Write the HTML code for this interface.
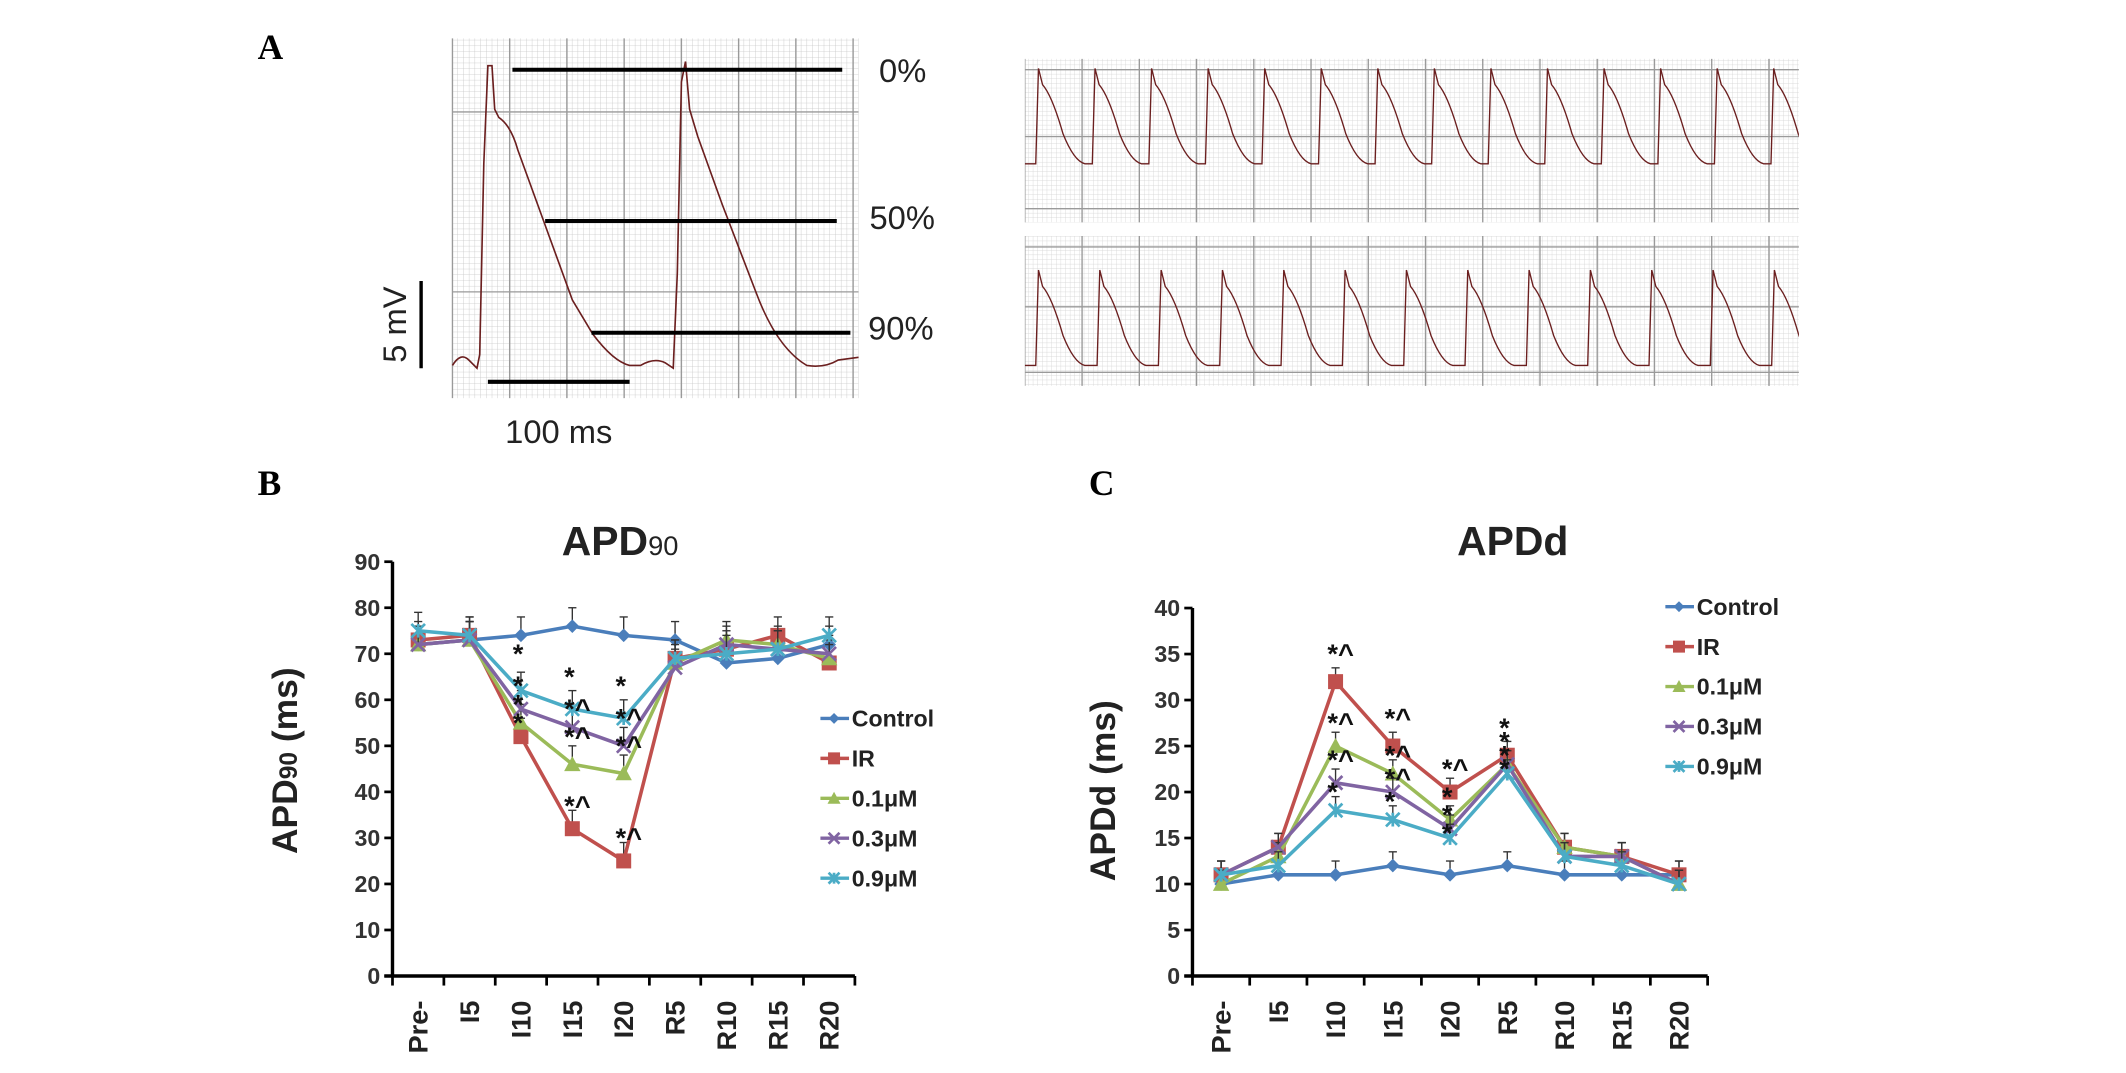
<!DOCTYPE html>
<html><head><meta charset="utf-8"><style>
html,body{margin:0;padding:0;background:#fff;}
svg{display:block;}
text{font-family:"Liberation Sans",sans-serif;}
text.serif{font-family:"Liberation Serif",serif;}
</style></head><body>
<svg id="fig" width="2126" height="1073" viewBox="0 0 1560 787" xmlns="http://www.w3.org/2000/svg">
<defs>
<pattern id="fine" width="4.2" height="4.2" patternUnits="userSpaceOnUse"><path d="M4.2 0V4.2M0 4.2H4.2" stroke="#c8c8c8" stroke-width="0.6" fill="none"/></pattern>
<pattern id="fineR" width="3.4" height="3.4" patternUnits="userSpaceOnUse"><path d="M3.4 0V3.4M0 3.4H3.4" stroke="#cfcfcf" stroke-width="0.5" fill="none"/></pattern>
<clipPath id="clipR"><rect x="752" y="40" width="568" height="250"/></clipPath>
</defs>
<g id="panelA"></g>
<g id="chartB"></g>
<g id="chartC"></g>
</svg>
<script>
const categories=["Pre-","I5","I10","I15","I20","R5","R10","R15","R20"];
const seriesNames=["Control","IR","0.1\u03bcM","0.3\u03bcM","0.9\u03bcM"];
const seriesColors=["#4a7ebb","#c0504d","#9bbb59","#8064a2","#4bacc6"];
const b_control=[72,73,74,76,74,73,68,69,72];
const b_ir=[73,74,52,32,25,69,71,74,68];
const b_01=[72,73,55,46,44,68,73,72,69];
const b_03=[72,73,58,54,50,67,72,71,70];
const b_09=[75,74,62,58,56,69,70,71,74];
const b_ticks=[0,10,20,30,40,50,60,70,80,90];
const c_control=[10,11,11,12,11,12,11,11,11];
const c_ir=[11,14,32,25,20,24,14,13,11];
const c_01=[10,13,25,22,17,23,14,13,10];
const c_03=[11,14,21,20,16,23,13,13,10];
const c_09=[11,12,18,17,15,22,13,12,10];
const c_ticks=[0,5,10,15,20,25,30,35,40];

const NS="http://www.w3.org/2000/svg";
function mk(tag,attrs,parent,txt){const e=document.createElementNS(NS,tag);for(const k in attrs)e.setAttribute(k,attrs[k]);if(txt!==undefined)e.textContent=txt;parent.appendChild(e);return e;}

// ---------- Panel A ----------
const A=document.getElementById('panelA');
let t;
t=mk('text',{x:189,y:43,'class':'serif','font-weight':'bold','font-size':26},A,'A');


function gridBox(x,y,w,h,pat,major,name,parent){
  const g=mk('g',{},parent||A);
  
  
  mk('rect',{x:x,y:y,width:w,height:h,fill:'url(#'+pat+')'},g);
  for(let gx=x;gx<=x+w;gx+=major)mk('line',{x1:gx,y1:y,x2:gx,y2:y+h,stroke:'#9a9a9a','stroke-width':1},g);
  return g;
}
const gL=gridBox(332,28,298,264,'fine',42,'action-potential-grid');
[82,214].forEach(yy=>mk('line',{x1:332,y1:yy,x2:630,y2:yy,stroke:'#9a9a9a','stroke-width':1},gL));
let tr=mk('path',{d:'M332 268 Q338 258 344 264 L350 270 L352 260 L355 120 L358 48 L361 48 L363 80 L366 86 Q375 92 380 110 L400 165 L420 220 L435 245 Q450 265 462 268 L470 268 Q480 262 488 266 L494 270 L497 200 L500 60 L503 45 L506 80 L512 100 L530 150 L555 215 Q570 255 592 268 Q605 270 615 264 L630 262',fill:'none',stroke:'#6b1f1f','stroke-width':1.2},A);


[[376,51,618,'0%',645,60],[400,162,614,'50%',638,168],[434,244,624,'90%',637,249]].forEach((r,i)=>{
  const l=mk('line',{x1:r[0],y1:r[1],x2:r[2],y2:r[1],stroke:'#000','stroke-width':3},A);
  
  
  const tx=mk('text',{x:r[4],y:r[5],'font-size':24,fill:'#222'},A,r[3]);
  
  
});
let sb=mk('line',{x1:358,y1:280,x2:462,y2:280,stroke:'#000','stroke-width':3},A);


t=mk('text',{x:410,y:325,'font-size':24,'text-anchor':'middle',fill:'#222'},A,'100 ms');


sb=mk('line',{x1:309,y1:206,x2:309,y2:270,stroke:'#000','stroke-width':2.5},A);


t=mk('text',{x:0,y:0,'font-size':24,'text-anchor':'middle',fill:'#222',transform:'translate(298,238) rotate(-90)'},A,'5 mV');


const clipG=mk('g',{'clip-path':'url(#clipR)'},A);
function strip(y,h,top,base,name,startX,period){
  const g=gridBox(752,y,568,h,'fineR',42,name,clipG);
  [y+8,y+h/2-3,y+h-10].forEach(yy=>mk('line',{x1:752,y1:yy,x2:1320,y2:yy,stroke:'#9a9a9a','stroke-width':1},g));
  let d='M752 '+base;
  for(let x=startX;x<1320;x+=period){
    d+=' L'+(x-2)+' '+base+' L'+x+' '+top+' L'+(x+3)+' '+(top+12)+' Q'+(x+10)+' '+(top+20)+' '+(x+18)+' '+(base-22)+' Q'+(x+26)+' '+(base-2)+' '+(x+34)+' '+base;
  }
  const p=mk('path',{d:d,fill:'none',stroke:'#6b1f1f','stroke-width':1},g);
  
  
}
strip(43,120,50,120,'recording-strip-top',762,41.5);
strip(173,110,198,268,'recording-strip-bottom',762,45);

// ---------- Line charts ----------
function chart(gid,opts){
  const G=document.getElementById(gid);
  const X=i=>opts.x0+opts.step*(i+0.5);
  const Y=v=>opts.y0-(v/opts.ymax)*(opts.y0-opts.yTop);
  let e;
  e=mk('text',{x:opts.labX,y:363,'class':'serif','font-weight':'bold','font-size':26},G,opts.letter);
  
  
  e=mk('text',{x:opts.titleX,y:407,'font-weight':'bold','font-size':30,'text-anchor':'middle',fill:'#222'},G);
  
  
  e.innerHTML=opts.title;
  e=mk('text',{x:0,y:0,'font-weight':'bold','font-size':26,'text-anchor':'middle',fill:'#222',transform:'translate('+opts.ylabX+','+(opts.ylabY)+') rotate(-90)'},G);
  
  
  e.innerHTML=opts.ylab;
  const ax=mk('g',{},G);
  
  
  mk('line',{x1:opts.x0,y1:Y(opts.ymax),x2:opts.x0,y2:opts.y0,stroke:'#000','stroke-width':2.5},ax);
  mk('line',{x1:opts.x0-6,y1:opts.y0,x2:opts.x0+opts.step*9,y2:opts.y0,stroke:'#000','stroke-width':2.5},ax);
  opts.ticks.forEach(v=>{
    mk('line',{x1:opts.x0-6,y1:Y(v),x2:opts.x0,y2:Y(v),stroke:'#000','stroke-width':2},ax);
    const tl=mk('text',{x:opts.x0-9,y:Y(v)+6,'font-size':17,'font-weight':'bold','text-anchor':'end',fill:'#333'},ax,String(v));
    
    
  });
  for(let i=0;i<=9;i++)mk('line',{x1:opts.x0+opts.step*i,y1:opts.y0,x2:opts.x0+opts.step*i,y2:opts.y0+7,stroke:'#000','stroke-width':2},ax);
  categories.forEach((c,i)=>{
    const tl=mk('text',{x:0,y:0,'font-size':20,'font-weight':'bold','text-anchor':'end',fill:'#222',transform:'translate('+(X(i)+7)+','+(opts.y0+18)+') rotate(-90)'},ax,c);
    
    
  });
  opts.series.forEach((s,si)=>{
    const col=seriesColors[si];
    const sg=mk('g',{},G);
    
    
    s.forEach((v,i)=>{
      mk('line',{x1:X(i),y1:Y(v),x2:X(i),y2:Y(v+opts.err),stroke:'#333','stroke-width':1},sg);
      mk('line',{x1:X(i)-3,y1:Y(v+opts.err),x2:X(i)+3,y2:Y(v+opts.err),stroke:'#333','stroke-width':1},sg);
    });
    const pts=s.map((v,i)=>X(i)+','+Y(v)).join(' ');
    const pl=mk('polyline',{points:pts,fill:'none',stroke:col,'stroke-width':2.6},sg);
    
    
    s.forEach((v,i)=>{
      const m=marker(sg,X(i),Y(v),si,col);
      
      
    });
  });
  const lg=mk('g',{},G);
  
  
  seriesNames.forEach((n,i)=>{
    const y=opts.legY+i*opts.legDy;
    const le=mk('g',{},lg);
    
    
    mk('line',{x1:opts.legX,y1:y,x2:opts.legX+21,y2:y,stroke:seriesColors[i],'stroke-width':2.5},le);
    marker(le,opts.legX+10,y,i,seriesColors[i],0.8);
    mk('text',{x:opts.legX+23,y:y+6,'font-size':17,'font-weight':'bold',fill:'#222'},le,n);
  });
  opts.ann.forEach(a=>{
    const at=mk('text',{x:X(a[0])-6,y:Y(a[1]),'font-size':20,'font-weight':'bold',fill:'#111'},G,a[2]);
    
    
  });
}
function marker(p,x,y,si,col,sc){
  sc=sc||1;const r=5*sc;
  if(si===0)return mk('path',{d:`M${x} ${y-r} L${x+r} ${y} L${x} ${y+r} L${x-r} ${y}Z`,fill:col},p);
  if(si===1)return mk('rect',{x:x-r*1.1,y:y-r*1.1,width:r*2.2,height:r*2.2,fill:col},p);
  if(si===2)return mk('path',{d:`M${x} ${y-r*1.2} L${x+r*1.2} ${y+r} L${x-r*1.2} ${y+r}Z`,fill:col},p);
  if(si===3)return mk('path',{d:`M${x-r} ${y-r} L${x+r} ${y+r} M${x-r} ${y+r} L${x+r} ${y-r}`,stroke:col,'stroke-width':2},p);
  return mk('path',{d:`M${x-r} ${y-r} L${x+r} ${y+r} M${x-r} ${y+r} L${x+r} ${y-r} M${x} ${y-r} L${x} ${y+r}`,stroke:col,'stroke-width':2},p);
}
chart('chartB',{letter:'B',labX:189,titleX:455,title:'APD<tspan font-size="20" font-weight="normal">90</tspan>',
  ylab:'APD<tspan font-size="18">90</tspan> (ms)',ylabX:218,ylabY:558,
  x0:288,step:37.7,y0:716,yTop:412,ymax:90,ticks:b_ticks,err:4,
  series:[b_control,b_ir,b_01,b_03,b_09],legX:602,legY:527,legDy:29.3,
  ann:[[2,'68','*'],[2,'61','*'],[2,'57','*'],[2,'53','*'],[3,'63','*'],[3,'56','*^'],[3,'50','*^'],[3,'35','*^'],[4,'61','*'],[4,'54','*^'],[4,'48','*^'],[4,'28','*^']]});
chart('chartC',{letter:'C',labX:799,titleX:1110,title:'APDd',
  ylab:'APDd (ms)',ylabX:818,ylabY:580,
  x0:875,step:42,y0:716,yTop:446,ymax:40,ticks:c_ticks,err:1.5,
  series:[c_control,c_ir,c_01,c_03,c_09],legX:1222,legY:445,legDy:29.3,
  ann:[[2,'34','*^'],[2,'26.5','*^'],[2,'22.5','*^'],[2,'19','*'],[3,'27','*^'],[3,'23','*^'],[3,'20.5','*^'],[3,'18','*'],[4,'21.5','*^'],[4,'18.5','*'],[4,'16.5','*'],[4,'14.5','*'],[5,'26','*'],[5,'24.5','*'],[5,'23','*'],[5,'21.5','*']]});
</script>
</body></html>
